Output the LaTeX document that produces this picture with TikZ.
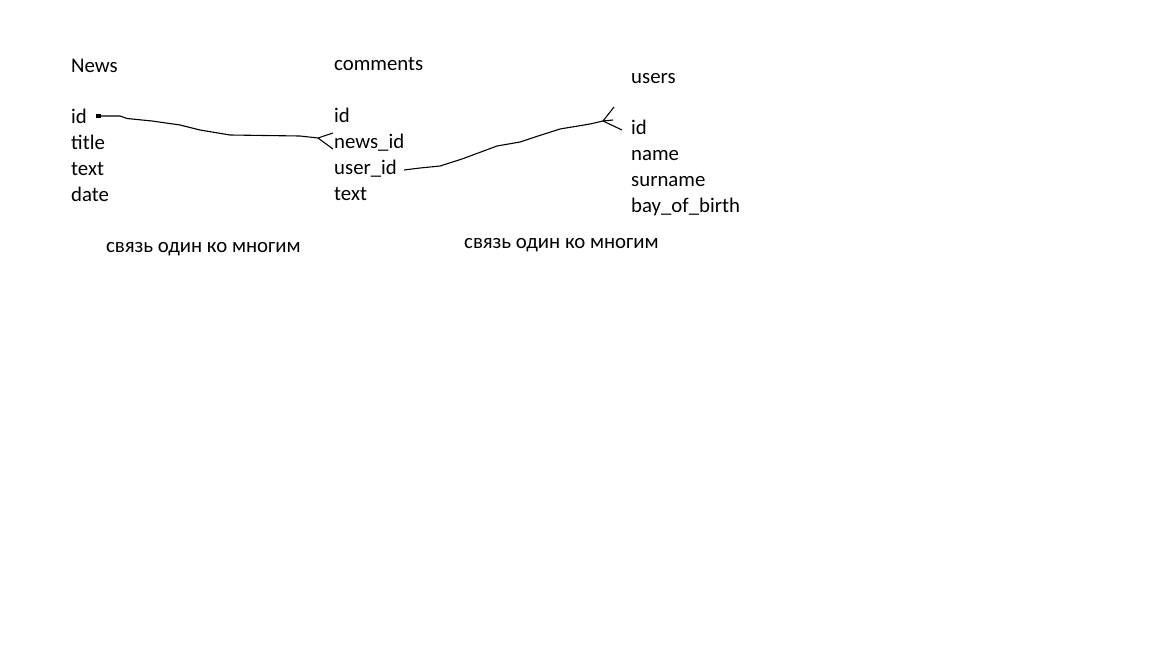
\documentclass[tikz,border=0pt]{standalone}
\usepackage{fontspec}
\setmainfont{Carlito}
\usetikzlibrary{positioning}
\tikzset{
	field/.style={anchor=base west, inner sep=0pt, font=\fontsize{20.8}{24}\selectfont},
	note/.style={anchor=base west, inner sep=0pt, font=\fontsize{20.8}{24}\selectfont},
	link/.style={line width=1.1pt, color=black, line join=round},
}

\begin{document}
\begin{tikzpicture}[x=1pt, y=-1pt]
		%%%%% START %%%%%
		
		\useasboundingbox[fill=white] (0, 0) rectangle (1152, 648);
		
		% news
		\node[field] (news) at (71, 72) {News};
		\node[field] (nid) at (71, 123) {id};
		\node[field] (ntitle) at (71, 149) {title};
		\node[field] (ntext) at (71, 175) {text};
		\node[field] (ndate) at (71, 201) {date};
		
		% comments
		\node[field] (com) at (334, 70) {comments};
		\node[field] (cid) at (334, 122) {id};
		\node[field] (cnid) at (334, 148) {news\_id};
		\node[field] (cuid) at (334, 174) {user\_id};
		\node[field] (ctext) at (334, 200) {text};
		
		% users
		\node[field] (usr) at (631, 83) {users};
		\node[field] (uid) at (631, 134) {id};
		\node[field] (uname) at (631, 160) {name};
		\node[field] (usurname) at (631, 186) {surname};
		\node[field] (ubirth) at (631, 212) {bay\_of\_birth};
		
		\node[note] (rel1) at (106, 252) {связь один ко многим};
		\node[note] (rel2) at (464, 248) {связь один ко многим};
		
		% news.id -> comments.news_id
		\coordinate (ndot) at ([xshift=27, yshift=7]nid.base west);
		\coordinate (nfork) at ([xshift=-16, yshift=10]cnid.base west);
		\fill (ndot) ++(-2, -2) rectangle ++(5, 4);
		\draw[link] (ndot) -- (120, 116) -- (127, 118.5) -- (152, 121) -- (180, 125) -- (200, 130) -- (230, 135) -- (300, 136) -- (nfork);
		\draw[link] (nfork) -- ([xshift=-1, yshift=15]cnid.base west);
		\draw[link] (nfork) -- ([xshift=-1, yshift=-1]cnid.base west);
		
		% comments.user_id -> users.id
		\coordinate (ufork) at ([xshift=-28, yshift=13]uid.base west);
		\draw[link] ([xshift=70, yshift=4]cuid.base west) -- (420, 168) -- (440, 166) -- (462, 159) -- (497, 146) -- (520, 142) -- (535, 137) -- (560, 129) -- (590, 124) -- (ufork);
		\draw[link] (ufork) -- ++(10, -1);
		\draw[link] (ufork) -- ++(11, -14);
		\draw[link] (ufork) -- ([xshift=-9, yshift=4]uid.base west);
		
		%%%%% END %%%%%
	\end{tikzpicture}
\end{document}
